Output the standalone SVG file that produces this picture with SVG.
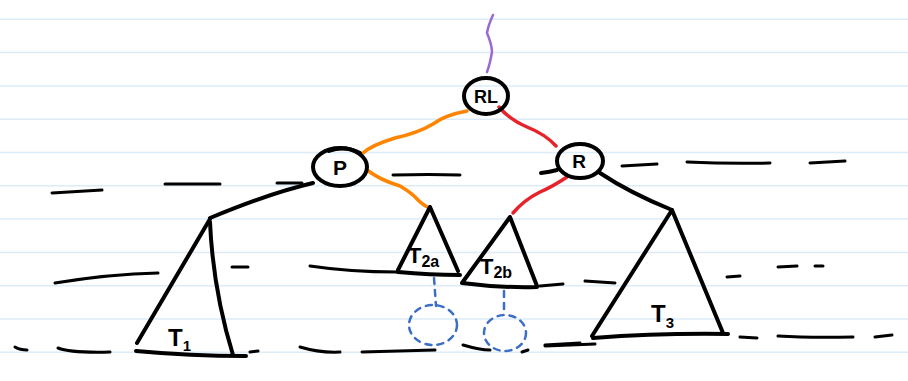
<svg xmlns="http://www.w3.org/2000/svg" width="908" height="381" viewBox="0 0 908 381">
  <style>
    .rule { stroke: #dcecf8; stroke-width: 1.5; }
    .ink { fill: none; stroke: #000; stroke-width: 4; stroke-linecap: round; stroke-linejoin: round; }
    .dash { fill: none; stroke: #000; stroke-width: 3; stroke-linecap: round; }
    .orange { fill: none; stroke: #ff8400; stroke-width: 3.5; stroke-linecap: round; }
    .red { fill: none; stroke: #e8222a; stroke-width: 3.5; stroke-linecap: round; }
    .purple { fill: none; stroke: #9a6ad2; stroke-width: 2.5; stroke-linecap: round; }
    .blue { fill: none; stroke: #3c6ec6; stroke-width: 2.5; stroke-linecap: round; stroke-dasharray: 6 6; }
    .lbl { font-family: "Liberation Sans", Arial, sans-serif; font-weight: bold; fill: #000; }
  </style>

  <rect width="908" height="381" fill="#fff"/>

  <!-- ruled paper -->
  <g id="paper">
    <line class="rule" x1="0" y1="19.3" x2="908" y2="19.3"/>
    <line class="rule" x1="0" y1="52.6" x2="908" y2="52.6"/>
    <line class="rule" x1="0" y1="85.9" x2="908" y2="85.9"/>
    <line class="rule" x1="0" y1="119.2" x2="908" y2="119.2"/>
    <line class="rule" x1="0" y1="152.5" x2="908" y2="152.5"/>
    <line class="rule" x1="0" y1="185.8" x2="908" y2="185.8"/>
    <line class="rule" x1="0" y1="219.1" x2="908" y2="219.1"/>
    <line class="rule" x1="0" y1="252.4" x2="908" y2="252.4"/>
    <line class="rule" x1="0" y1="285.7" x2="908" y2="285.7"/>
    <line class="rule" x1="0" y1="319" x2="908" y2="319"/>
    <line class="rule" x1="0" y1="352.3" x2="908" y2="352.3"/>
  </g>

  <!-- hand-drawn level dashes -->
  <g id="level-dashes">
    <path class="dash" d="M52 193 L102 190"/>
    <path class="dash" d="M165 184 L220 184"/>
    <path class="dash" d="M277 183 L302 183"/>
    <path class="dash" d="M393 175 Q430 174 460 175"/>
    <path class="dash" d="M622 166 L657 164"/>
    <path class="dash" d="M687 162 Q730 164 770 163"/>
    <path class="dash" d="M810 163 L845 161"/>
    <path class="dash" d="M55 283 Q110 274 158 273"/>
    <path class="dash" d="M232 267 L248 267"/>
    <path class="dash" d="M310 266 Q350 272 397 272"/>
    <path class="dash" d="M540 286 L563 284"/>
    <path class="dash" d="M585 281 L615 283"/>
    <path class="dash" d="M727 277 L740 276"/>
    <path class="dash" d="M778 267 L797 266"/>
    <path class="dash" d="M815 266 L823 266"/>
    <path class="dash" d="M15 347 Q20 350 27 350"/>
    <path class="dash" d="M58 348 Q70 353 110 352"/>
    <path class="dash" d="M250 352 L258 351"/>
    <path class="dash" d="M300 347 Q320 353 340 352"/>
    <path class="dash" d="M362 352 L435 350"/>
    <path class="dash" d="M463 345 Q480 350 490 350"/>
    <path class="dash" d="M522 352 L528 350"/>
    <path class="dash" d="M545 345 L580 343"/>
    <path class="dash" d="M545 346 L595 344"/>
    <path class="dash" d="M740 337 L757 338"/>
    <path class="dash" d="M778 336 Q810 338 853 337"/>
    <path class="dash" d="M875 337 L892 335"/>
  </g>

  <!-- connectors -->
  <g id="connectors">
    <path class="purple" d="M493 15 Q488 26 487 33 Q492 45 492 52 Q490 64 487 72"/>
    <path class="orange" d="M467 111 Q445 115 433 124 Q418 133 395 138 Q372 145 363 153"/>
    <path class="red" d="M499 107 Q510 120 527 127 Q545 134 556 146"/>
    <path class="orange" d="M367 170 Q380 180 400 186 Q412 193 418 200 Q424 206 430 208"/>
    <path class="red" d="M567 177 Q552 187 540 192 Q524 200 513 213"/>
    <path class="ink" d="M313 183 Q270 193 210 218"/>
    <path class="ink" d="M600 173 Q630 193 672 210"/>
    <path class="blue" d="M434 278 L436 306"/>
    <path class="blue" d="M504 291 L504 315"/>
  </g>

  <!-- root -->
  <g id="node-RL">
    <ellipse class="ink" cx="486" cy="96" rx="22" ry="18" stroke-width="3.5"/>
    <text class="lbl" x="486" y="103" font-size="18" text-anchor="middle">RL</text>
  </g>

  <g id="node-P">
    <ellipse class="ink" cx="340" cy="167" rx="27" ry="19" stroke-width="3.5"/>
    <path class="ink" d="M329 151 Q345 145 360 153" stroke-width="3.5"/>
    <text class="lbl" x="340" y="175" font-size="21" text-anchor="middle">P</text>
  </g>

  <g id="node-R">
    <ellipse class="ink" cx="580" cy="161" rx="23" ry="17" stroke-width="3.5"/>
    <path class="ink" d="M541 173 Q550 172 557 170" stroke-width="3"/>
    <text class="lbl" x="579" y="168" font-size="19" text-anchor="middle">R</text>
  </g>

  <g id="subtree-T1">
    <path class="ink" d="M210 219 L137 343"/>
    <path class="ink" d="M210 222 Q213 290 233 355"/>
    <path class="ink" d="M136 351 Q190 356 246 356" stroke-width="4.5"/>
    <text class="lbl" x="168" y="346" font-size="24">T<tspan font-size="15" dy="5">1</tspan></text>
  </g>

  <g id="subtree-T2a">
    <path class="ink" d="M430 207 L398 270 M430 207 L458 271 M398 272 Q430 275 460 275"/>
    <text class="lbl" x="408" y="263" font-size="22">T<tspan font-size="16" dy="4">2a</tspan></text>
    <ellipse class="blue" cx="433" cy="325" rx="24" ry="20"/>
  </g>

  <g id="subtree-T2b">
    <path class="ink" d="M510 217 L462 283 M510 217 L537 286 M462 283 Q500 288 537 287"/>
    <text class="lbl" x="480" y="274" font-size="22">T<tspan font-size="16" dy="4">2b</tspan></text>
    <ellipse class="blue" cx="505" cy="333" rx="21" ry="18"/>
  </g>

  <g id="subtree-T3">
    <path class="ink" d="M672 210 L592 336 M672 210 L723 333 M593 338 Q660 333 728 334"/>
    <text class="lbl" x="651" y="322" font-size="24">T<tspan font-size="15" dy="6">3</tspan></text>
  </g>
</svg>
